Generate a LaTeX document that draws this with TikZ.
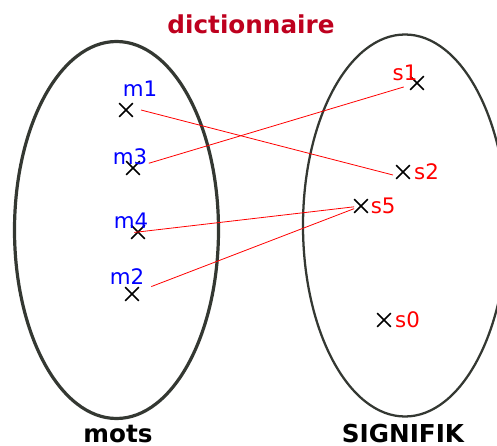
\documentclass[tikz,border=0pt]{standalone}
\usepackage{fontspec}
\setmainfont{DejaVu Sans}
\usepackage{xcolor}
\usetikzlibrary{shapes.misc,positioning}

\definecolor{titre}{RGB}{190,0,30}
\definecolor{bord}{RGB}{52,56,50}

\tikzset{
  pt/.style={cross out,draw=black,line width=1.3pt,minimum size=9pt,inner sep=0pt},
  mot/.style={text=blue,font=\fontsize{16}{18}\selectfont,inner sep=1pt},
  sig/.style={text=red,font=\fontsize{16}{18}\selectfont,inner sep=1pt},
  lien/.style={red,line width=0.6pt},
  nom/.style={font=\bfseries\fontsize{18.5}{20}\selectfont,inner sep=0pt}
}

\begin{document}
\begin{tikzpicture}[x=0.75pt,y=-0.75pt]
  \clip (0,0) rectangle (497,446);
  \useasboundingbox (0,0) rectangle (497,446);
  % les deux ensembles
  \draw[bord,line width=2.4pt] (116.5,230) ellipse [x radius=102,y radius=188.5];
  \draw[bord,line width=1.7pt] (405,225.5) ellipse [x radius=102,y radius=191];
  \node[nom,text=titre] (titre) at (251,24) {dictionnaire};
  \node[nom,anchor=base] (mots) at (118,442) {mots};
  \node[nom,anchor=base] (signifik) at (403,442) {SIGNIFIK};
  % les mots
  \node[pt] (m1) at (126,110) {};
  \node[pt] (m3) at (133,168) {};
  \node[pt] (m4) at (138,232) {};
  \node[pt] (m2) at (132,294) {};
  \node[mot] (lm1) at (140,89) {m1};
  \node[mot] (lm3) at (130,157) {m3};
  \node[mot] (lm4) at (131,221) {m4};
  \node[mot] (lm2) at (127,277) {m2};
  % les significations
  \node[pt] (s1) at (417,83) {};
  \node[pt] (s2) at (403,172) {};
  \node[pt] (s5) at (361,206) {};
  \node[pt] (s0) at (384,320) {};
  \node[sig] (ls1) at (405,73) {s1};
  \node[sig,right=2pt of s2] (ls2) {s2};
  \node[sig,right=1pt of s5] (ls5) {s5};
  \node[sig,right=2pt of s0] (ls0) {s0};
  % les liens
  \path (m1) ++(15,0) coordinate (a1) (s2) ++(-10,3) coordinate (b1);
  \draw[lien] (a1) -- (b1);
  \draw[lien,shorten <=7pt,shorten >=5pt] (m3) -- (s1);
  \draw[lien,shorten <=-8pt] (m4) -- (s5);
  \draw[lien,shorten <=10pt] (m2) -- (s5);
\end{tikzpicture}
\end{document}
